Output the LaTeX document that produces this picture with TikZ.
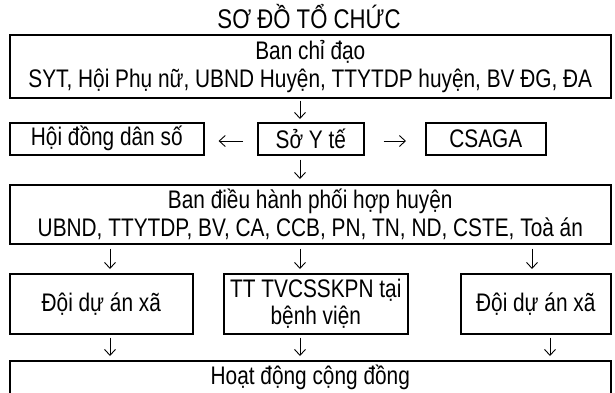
\documentclass[tikz,border=0pt]{standalone}
\usepackage{fontspec}
\setmainfont{Liberation Sans}[FakeStretch=0.82]
\usetikzlibrary{arrows.meta}
\begin{document}
\begin{tikzpicture}[x=1pt,y=-1pt,
  bx/.style={draw,line width=1.6pt,inner sep=1pt,anchor=north west,align=center,
    font=\fontsize{25.4}{27.5}\selectfont},
  conn/.style={line width=0.9pt,-{Straight Barb[length=6pt,width=11pt,line width=0.9pt]}}]
\useasboundingbox (0,0) rectangle (615,392);
\node[font=\fontsize{27}{30}\selectfont] (title) at (309,17) {SƠ ĐỒ TỔ CHỨC};
\node[bx,minimum width=601pt,minimum height=63pt] (b1) at (9,34)
  {Ban chỉ đạo\\SYT, Hội Phụ nữ, UBND Huyện, TTYTDP huyện, BV ĐG, ĐA};
\node[bx,minimum width=194pt,minimum height=32pt] (hd) at (9,122) {Hội đồng dân số};
\node[bx,minimum width=106pt,minimum height=32pt] (so) at (257,122) {Sở Y tế};
\node[bx,minimum width=120pt,minimum height=32pt] (cs) at (425,122) {CSAGA};
\node[bx,minimum width=601pt,minimum height=59pt] (b3) at (9,184)
  {Ban điều hành phối hợp huyện\\UBND, TTYTDP, BV, CA, CCB, PN, TN, ND, CSTE, Toà án};
\node[bx,minimum width=183pt,minimum height=60pt] (d1) at (9,273) {Đội dự án xã};
\node[bx,minimum width=184pt,minimum height=60pt] (tt) at (223,273) {TT TVCSSKPN tại\\bệnh viện};
\node[bx,minimum width=150pt,minimum height=60pt] (d2) at (460,273) {Đội dự án xã};
\node[bx,minimum width=601pt,text height=20pt,text depth=40pt,inner ysep=4pt] (b5) at (9,360)
  {Hoạt động cộng đồng};
\coordinate (xm) at (300,0);
\coordinate (xl) at (110,0);
\coordinate (xr1) at (532,0);
\coordinate (xr2) at (550,0);
\coordinate (yh) at (0,141);
\draw[conn,shorten <=2pt,shorten >=3pt] (b1.south -| xm) -- (so.north -| xm);
\draw[conn,shorten <=4pt,shorten >=5pt] (so.south -| xm) -- (b3.north -| xm);
\draw[conn,shorten <=14pt,shorten >=14pt] (so.west |- yh) -- (hd.east |- yh);
\draw[conn,shorten <=19pt,shorten >=19pt] (so.east |- yh) -- (cs.west |- yh);
\draw[conn,shorten <=4pt,shorten >=4pt] (b3.south -| xl) -- (d1.north -| xl);
\draw[conn,shorten <=4pt,shorten >=4pt] (b3.south -| xm) -- (tt.north -| xm);
\draw[conn,shorten <=4pt,shorten >=4pt] (b3.south -| xr1) -- (d2.north -| xr1);
\draw[conn,shorten <=3pt,shorten >=4pt] (d1.south -| xl) -- (b5.north -| xl);
\draw[conn,shorten <=3pt,shorten >=4pt] (tt.south -| xm) -- (b5.north -| xm);
\draw[conn,shorten <=3pt,shorten >=4pt] (d2.south -| xr2) -- (b5.north -| xr2);
\end{tikzpicture}
\end{document}
